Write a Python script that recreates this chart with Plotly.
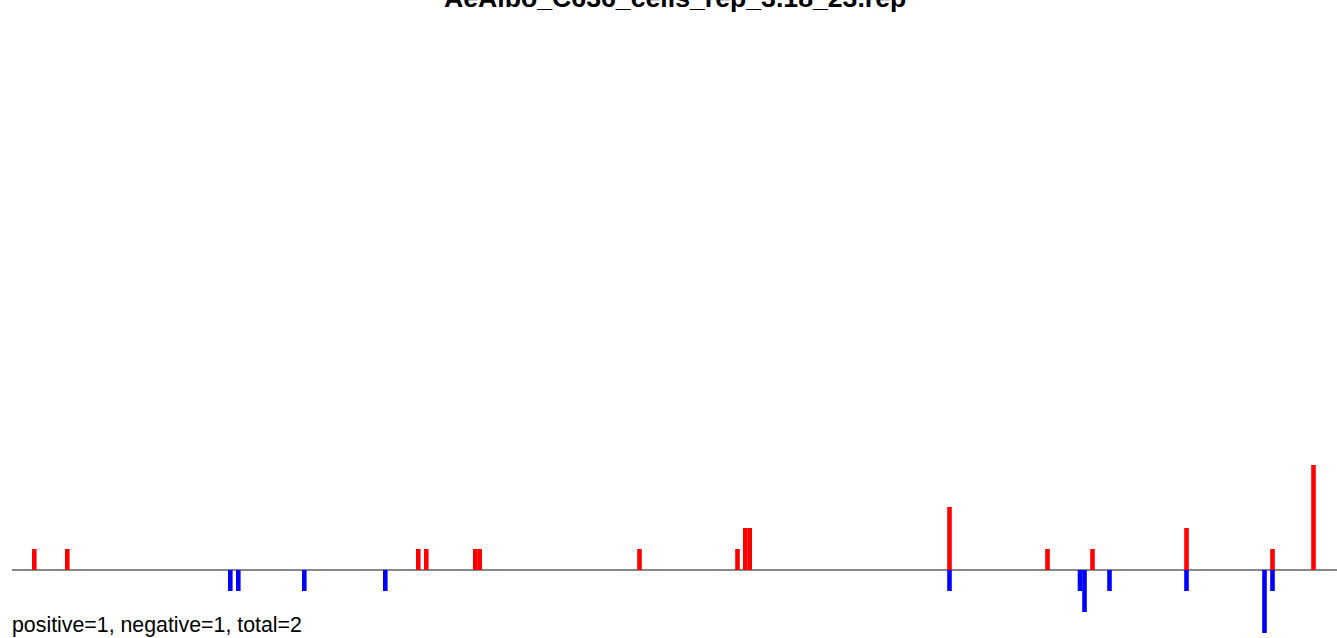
import plotly.graph_objects as go

title_text = "AeAlbo_C636_cells_rep_3.18_23.rep"
summary_text = "positive=1, negative=1, total=2"

pos_x = [22.3, 55.3, 406.3, 414.3, 463.3, 467.7, 627.5, 725.5, 733.3, 737.7,
         937.5, 1035.5, 1080.5, 1174.5, 1260.5, 1301.5]
pos_y = [1, 1, 1, 1, 1, 1, 1, 1, 2, 2, 3, 1, 1, 2, 1, 5]

neg_x = [218.3, 226.3, 292.3, 373.3, 937.5, 1068.0, 1072.5, 1097.5, 1174.5,
         1252.5, 1260.5]
neg_y = [-1, -1, -1, -1, -1, -1, -2, -1, -1, -3, -1]

bar_w = 4.6

fig = go.Figure()
fig.add_trace(go.Bar(x=pos_x, y=pos_y, width=bar_w, marker=dict(color="#ff0000", line=dict(width=0)),
                     showlegend=False, hoverinfo="x+y"))
fig.add_trace(go.Bar(x=neg_x, y=neg_y, width=bar_w, marker=dict(color="#0000ff", line=dict(width=0)),
                     showlegend=False, hoverinfo="x+y"))

H = 638
unit = 21.0
lo = -(H - 570) / unit
hi = lo + H / unit

fig.update_layout(
    width=1337, height=638,
    margin=dict(l=12, r=0, t=0, b=0),
    plot_bgcolor="white", paper_bgcolor="white",
    barmode="overlay",
    xaxis=dict(range=[0, 1325], visible=False, showgrid=False, zeroline=False),
    yaxis=dict(range=[lo, hi], showgrid=False, showticklabels=False, ticks="",
               zeroline=True, zerolinecolor="#888888", zerolinewidth=1.5),
    font=dict(family="Liberation Sans, Arial, sans-serif"),
    annotations=[
        dict(text="<b>" + title_text + "</b>", xref="paper", yref="paper", x=0.5, y=1,
             xanchor="center", yanchor="middle", yshift=2.5, showarrow=False,
             font=dict(size=26.67, color="black")),
        dict(text=summary_text, xref="paper", yref="paper", x=0, y=(H - 624.5) / H,
             xanchor="left", yanchor="middle", xshift=-2, showarrow=False,
             font=dict(size=21.33, color="black")),
    ],
)

fig.write_html("out.html", config={"displayModeBar": False},
               post_script="document.body.style.margin='0';document.body.style.overflow='hidden';")
